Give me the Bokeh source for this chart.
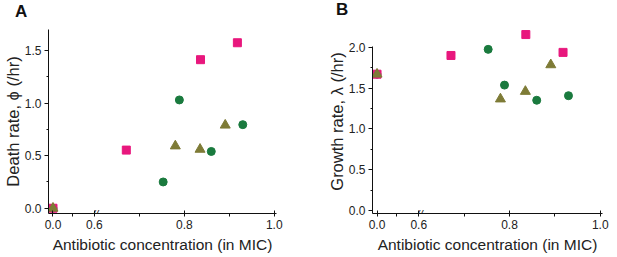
from bokeh.plotting import figure
from bokeh.layouts import row, column
from bokeh.models import FixedTicker, Label, Range1d, PrintfTickFormatter, Div
from bokeh.embed import file_html
from bokeh.resources import INLINE

# ---- data (antibiotic concentration in MIC) ----
sq_conc = [0.0, 0.671, 0.836, 0.918]
ci_conc = [0.0, 0.753, 0.789, 0.860, 0.930]
tr_conc = [0.0, 0.780, 0.835, 0.891]

sq_death = [0.0, 0.553, 1.413, 1.574]
ci_death = [0.0, 0.250, 1.030, 0.540, 0.795]
tr_death = [0.0, 0.592, 0.560, 0.790]

sq_growth = [1.673, 1.903, 2.160, 1.941]
ci_growth = [1.673, 1.978, 1.539, 1.353, 1.409]
tr_growth = [1.673, 1.368, 1.461, 1.788]

x_tick_labels = ["0.0", "0.6", "0.8", "1.0"]
panel_letters = ["A", "B"]

SQ_COLOR = "#E8177D"
CI_COLOR = "#1A7A3E"
TR_COLOR = "#7E7B36"
FONT = "Liberation Sans"

# broken x axis: low segment placed just left of the 0.6 break
BREAK_OFFSET = 0.508


def brk(xs):
    return [x + BREAK_OFFSET if x < 0.3 else x for x in xs]


def make_panel(ylabel, sq_y, ci_y, tr_y, y_range, y_ticks, y_minor,
               width, border_left, border_right, border_top, axis_top):
    p = figure(width=width, height=257, output_backend="svg", toolbar_location=None,
               x_range=Range1d(0.498, 1.005), y_range=Range1d(*y_range),
               min_border_left=border_left, min_border_right=border_right,
               min_border_top=border_top, min_border_bottom=44)
    p.outline_line_color = None
    p.grid.visible = False
    p.background_fill_color = "white"
    p.border_fill_color = "white"

    p.scatter(brk(ci_conc), ci_y, marker="circle", size=8, color=CI_COLOR)
    p.scatter(brk(sq_conc), sq_y, marker="square", size=8, color=SQ_COLOR)
    p.scatter(brk(tr_conc), tr_y, marker="triangle", size=10, color=TR_COLOR)

    xt = [BREAK_OFFSET, 0.6, 0.8, 1.0]
    p.xaxis.ticker = FixedTicker(ticks=xt, minor_ticks=[0.551, 0.7, 0.9])
    p.xaxis.major_label_overrides = {t: l for t, l in zip(xt, x_tick_labels)}
    p.xaxis.axis_label = "Antibiotic concentration (in MIC)"
    p.xaxis.major_tick_in = 3
    p.xaxis.major_tick_out = 3
    p.xaxis.minor_tick_in = 0
    p.xaxis.minor_tick_out = 3
    p.xaxis.major_label_standoff = 3
    p.xaxis.axis_label_standoff = 4
    p.xaxis.axis_label_text_font_size = "15.5px"

    p.yaxis.ticker = FixedTicker(ticks=y_ticks, minor_ticks=y_minor)
    p.yaxis.formatter = PrintfTickFormatter(format="%.1f")
    p.yaxis.axis_label = ylabel
    p.yaxis.major_tick_in = 0
    p.yaxis.major_tick_out = 4
    p.yaxis.minor_tick_in = 0
    p.yaxis.minor_tick_out = 2
    p.yaxis.major_label_standoff = 3
    p.yaxis.axis_label_standoff = 0
    p.yaxis.axis_label_text_font_size = "16.5px"
    p.yaxis.bounds = (y_range[0], axis_top)

    for ax in (p.xaxis, p.yaxis):
        ax.axis_line_color = "#111111"
        ax.major_tick_line_color = "#111111"
        ax.minor_tick_line_color = "#111111"
        ax.major_label_text_font = FONT
        ax.major_label_text_font_size = "12px"
        ax.major_label_text_color = "#222222"
        ax.axis_label_text_font = FONT
        ax.axis_label_text_font_style = "normal"
        ax.axis_label_text_color = "#222222"

    # axis break marks
    p.add_layout(Label(x=0.602, y=y_range[0], text="//", text_font=FONT,
                       text_font_size="11px", text_align="center",
                       text_baseline="middle", text_color="#111111",
                       text_font_style="italic"))
    return p


pA = make_panel("Death rate, \u03d5 (/hr)", sq_death, ci_death, tr_death,
                (-0.05, 1.70), [0.0, 0.5, 1.0, 1.5], [0.25, 0.75, 1.25],
                310, 46, 34, 29, 1.70)
pB = make_panel("Growth rate, \u03bb (/hr)", sq_growth, ci_growth, tr_growth,
                (-0.038, 2.222), [0.0, 0.5, 1.0, 1.5, 2.0], [0.25, 0.75, 1.25, 1.75],
                307, 62, 15, 10, 2.008)

span = ('<span style="position:absolute;left:{l}px;top:{t}px;">{s}</span>')
letters_html = (
    '<div style="position:relative;width:617px;height:20px;'
    'font-family:\'Liberation Sans\';font-weight:bold;font-size:17px;'
    'line-height:17px;color:#111;">'
    + span.format(l=15, t=3, s=panel_letters[0])
    + span.format(l=336, t=1, s=panel_letters[1])
    + '</div>'
)
letters = Div(text=letters_html, width=617, height=20, margin=(0, 0, -20, 0),
              styles={"position": "relative", "z-index": "10"})

layout = column(letters, row(pA, pB), spacing=0)
open("out.html", "w").write(file_html(layout, INLINE))
